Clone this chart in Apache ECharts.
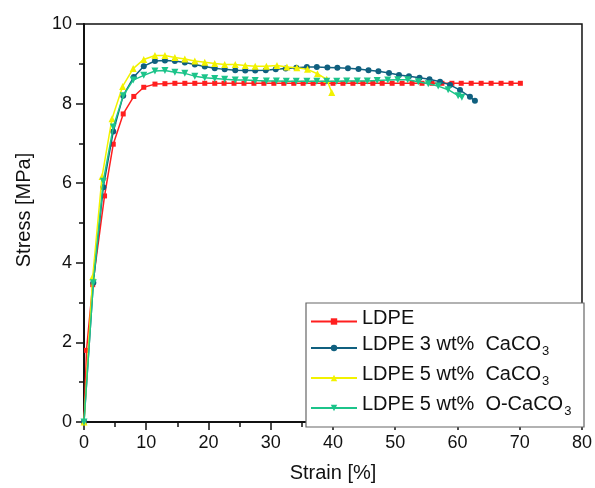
<!DOCTYPE html>
<html><head><meta charset="utf-8">
<script src="https://cdn.jsdelivr.net/npm/echarts@6/dist/echarts.min.js"></script>
<style>html,body{margin:0;padding:0;background:#fff}#c{width:595px;height:488px}</style>
</head><body><div id="c"></div>
<script>
const xTicks = [0,10,20,30,40,50,60,70,80];
const yTicks = [0,2,4,6,8,10];

const names = ['LDPE','LDPE 3 wt% CaCO3','LDPE 5 wt% CaCO3','LDPE 5 wt% O-CaCO3'];
const colors = ['#ff1f1f','#10607f','#f2f200','#1cc48a'];
const symbols = ['rect','circle','triangle','path://M0,0 L10,0 L5,9 Z'];

const ldpeX = [0,0.4,1.4,3.3,4.7,6.3,8.0,9.6,11.4,13.0,14.6,16.2,17.8,19.4,21.0,22.5,24.1,25.7,27.3,28.9,30.5,32.1,33.7,35.2,36.8,38.4,40.0,41.6,43.2,44.8,46.4,47.9,49.5,51.1,52.7,54.3,55.9,57.5,59.1,60.6,62.2,63.8,65.4,67.0,68.6,70.1];
const ldpeY = [0,1.8,3.45,5.68,6.98,7.74,8.18,8.41,8.49,8.5,8.51,8.51,8.51,8.51,8.51,8.51,8.51,8.51,8.51,8.51,8.51,8.51,8.51,8.51,8.51,8.51,8.51,8.51,8.51,8.51,8.51,8.51,8.51,8.51,8.51,8.51,8.51,8.51,8.51,8.51,8.51,8.51,8.51,8.51,8.51,8.51];

const ca3X = [0,1.5,3.1,4.7,6.3,8.0,9.6,11.4,13.0,14.6,16.2,17.8,19.4,21.0,22.6,24.3,25.9,27.5,29.2,30.8,32.4,34.1,35.8,37.4,39.1,40.7,42.4,44.1,45.7,47.3,49.0,50.6,52.2,53.9,55.5,57.2,58.8,60.4,62.0,62.8];
const ca3Y = [0,3.5,5.9,7.3,8.2,8.67,8.94,9.07,9.08,9.07,9.03,8.98,8.93,8.89,8.86,8.84,8.83,8.83,8.84,8.86,8.88,8.9,8.92,8.92,8.91,8.9,8.89,8.87,8.84,8.81,8.77,8.72,8.69,8.65,8.61,8.55,8.47,8.34,8.17,8.07];

const ca5X = [0,1.4,2.9,4.5,6.2,7.9,9.6,11.4,13.0,14.6,16.2,17.8,19.4,21.0,22.6,24.3,25.9,27.5,29.3,31.0,32.6,34.2,35.9,37.5,39.0,39.8];
const ca5Y = [0,3.65,6.17,7.62,8.43,8.88,9.11,9.21,9.21,9.16,9.12,9.07,9.04,9.01,8.98,8.98,8.96,8.94,8.94,8.96,8.92,8.9,8.86,8.75,8.61,8.28];

const oca5X = [0,1.5,3.1,4.7,6.3,7.9,9.6,11.4,13.0,14.6,16.2,17.8,19.4,21.0,22.6,24.3,25.9,27.5,29.3,30.9,32.5,34.1,35.8,37.4,39.0,40.6,42.2,43.9,45.5,47.1,48.8,50.4,52.0,53.7,55.3,56.9,58.5,60.1,60.7];
const oca5Y = [0,3.5,6.05,7.41,8.2,8.59,8.71,8.82,8.83,8.79,8.76,8.69,8.65,8.63,8.61,8.59,8.59,8.58,8.57,8.57,8.56,8.56,8.56,8.56,8.56,8.56,8.57,8.57,8.57,8.58,8.59,8.6,8.6,8.55,8.5,8.44,8.35,8.2,8.16];

const legendLabels = {
  'LDPE': '{a|LDPE}',
  'LDPE 3 wt% CaCO3': '{a|LDPE 3 wt%  CaCO}{s|3}',
  'LDPE 5 wt% CaCO3': '{a|LDPE 5 wt%  CaCO}{s|3}',
  'LDPE 5 wt% O-CaCO3': '{a|LDPE 5 wt%  O-CaCO}{s|3}'
};

const zip = (xs, ys) => xs.map((x, i) => [x, ys[i]]);
const allData = [zip(ldpeX, ldpeY), zip(ca3X, ca3Y), zip(ca5X, ca5Y), zip(oca5X, oca5Y)];
const symSizes = [5, 6, 7, 7];

const font = 'Liberation Sans, Arial, sans-serif';
const chart = echarts.init(document.getElementById('c'), null, {renderer: 'canvas'});
chart.setOption({
  animation: false,
  backgroundColor: '#fff',
  textStyle: {fontFamily: font},
  grid: {left: 84, right: 11, top: 24, bottom: 61, show: true, borderColor: '#111', borderWidth: 1.5, backgroundColor: 'transparent'},
  xAxis: {
    type: 'value', min: xTicks[0], max: xTicks[xTicks.length-1], interval: 10,
    name: 'Strain [%]', nameLocation: 'middle', nameGap: 41,
    nameTextStyle: {fontSize: 20, color: '#111', fontFamily: font},
    axisLine: {lineStyle: {color: '#111', width: 2}},
    axisTick: {show: true, inside: false, length: 8, lineStyle: {color: '#111', width: 1.5}},
    minorTick: {show: true, splitNumber: 2, length: 5, lineStyle: {color: '#111', width: 1.5}},
    axisLabel: {fontSize: 18, color: '#111', margin: 12, fontFamily: font},
    splitLine: {show: false}
  },
  yAxis: {
    type: 'value', min: yTicks[0], max: yTicks[yTicks.length-1], interval: 2,
    name: 'Stress [MPa]', nameLocation: 'middle', nameGap: 50,
    nameTextStyle: {fontSize: 20, color: '#111', fontFamily: font, padding: [0, 0, 0, 26]},
    axisLine: {show: true, lineStyle: {color: '#111', width: 2}},
    axisTick: {show: true, inside: false, length: 8, lineStyle: {color: '#111', width: 1.5}},
    minorTick: {show: true, splitNumber: 2, length: 5, lineStyle: {color: '#111', width: 1.5}},
    axisLabel: {fontSize: 18, color: '#111', margin: 12, fontFamily: font},
    splitLine: {show: false}
  },
  graphic: [{
    type: 'rect', shape: {x: 306, y: 303, width: 278, height: 124},
    style: {fill: '#fff', stroke: '#666', lineWidth: 1.2}, z: 3
  }],
  legend: {
    orient: 'vertical', left: 310, top: 308, itemGap: 6.5,
    itemWidth: 46, itemHeight: 8, padding: 0,
    data: names,
    formatter: (n) => legendLabels[n],
    textStyle: {
      fontFamily: font, color: '#111',
      rich: {
        a: {fontSize: 20, color: '#111', fontFamily: font, padding: [0, 0, 7, 0]},
        s: {fontSize: 13, color: '#111', fontFamily: font, padding: [7, 0, 0, 1]}
      }
    },
    z: 5
  },
  series: names.map((n, i) => ({
    name: n, type: 'line', data: allData[i],
    symbol: symbols[i], symbolSize: symSizes[i], showSymbol: true,
    itemStyle: {color: colors[i]},
    lineStyle: {color: colors[i], width: 1.5},
    z: 2 + i
  }))
});
</script></body></html>
